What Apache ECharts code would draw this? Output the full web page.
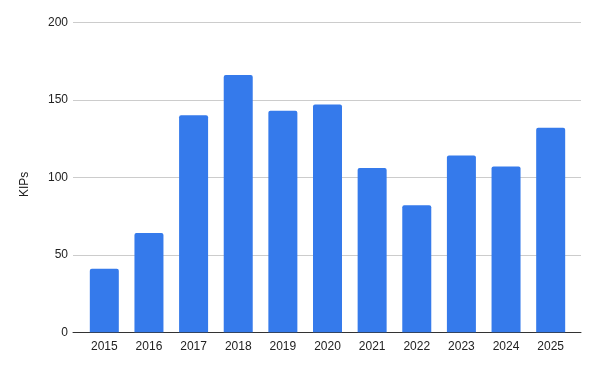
<!DOCTYPE html>
<html><head><meta charset="utf-8">
<script src="https://cdn.jsdelivr.net/npm/echarts@6/dist/echarts.min.js"></script>
<style>html,body{margin:0;padding:0;background:#fff}#c{width:596px;height:365px}</style>
</head><body><div id="c"></div>
<script>
const categories = ['2015','2016','2017','2018','2019','2020','2021','2022','2023','2024','2025'];
const kips = [41, 64, 140, 166, 143, 147, 106, 82, 114, 107, 132];
const yTicks = [0, 50, 100, 150, 200];

const chart = echarts.init(document.getElementById('c'), null, {renderer: 'canvas'});
const font = 'Arial, "Liberation Sans", sans-serif';
chart.setOption({
  animation: false,
  grid: [
    {left: 73, right: 15, top: 22.3, bottom: 32.7},
    {left: 82, right: 23, top: 22.3, bottom: 32.7}
  ],
  xAxis: [
    {gridIndex: 0, type: 'category', data: [''], axisLine: {show: true, lineStyle: {color: '#333', width: 1}},
     axisTick: {show: false}, axisLabel: {show: false}, splitLine: {show: false}},
    {gridIndex: 1, type: 'category', data: categories, axisLine: {show: false}, axisTick: {show: false},
     axisLabel: {color: '#222', fontFamily: font, fontSize: 12, margin: 8}}
  ],
  yAxis: [
    {gridIndex: 0, type: 'value', min: yTicks[0], max: yTicks[yTicks.length-1], interval: 50,
     name: 'KIPs', nameLocation: 'middle', nameGap: 42, nameRotate: 90,
     nameTextStyle: {color: '#222', fontFamily: font, fontSize: 12, padding: [0, 14, 0, 0]},
     axisLine: {show: false}, axisTick: {show: false},
     axisLabel: {color: '#222', fontFamily: font, fontSize: 12, margin: 5},
     splitLine: {lineStyle: {color: '#cccccc', width: 1}}},
    {gridIndex: 1, type: 'value', min: 0, max: 200, show: false}
  ],
  series: [{
    type: 'bar', xAxisIndex: 1, yAxisIndex: 1, data: kips, barWidth: 29,
    itemStyle: {color: '#357AEB', borderRadius: [2, 2, 0, 0]}
  }]
});
</script></body></html>
